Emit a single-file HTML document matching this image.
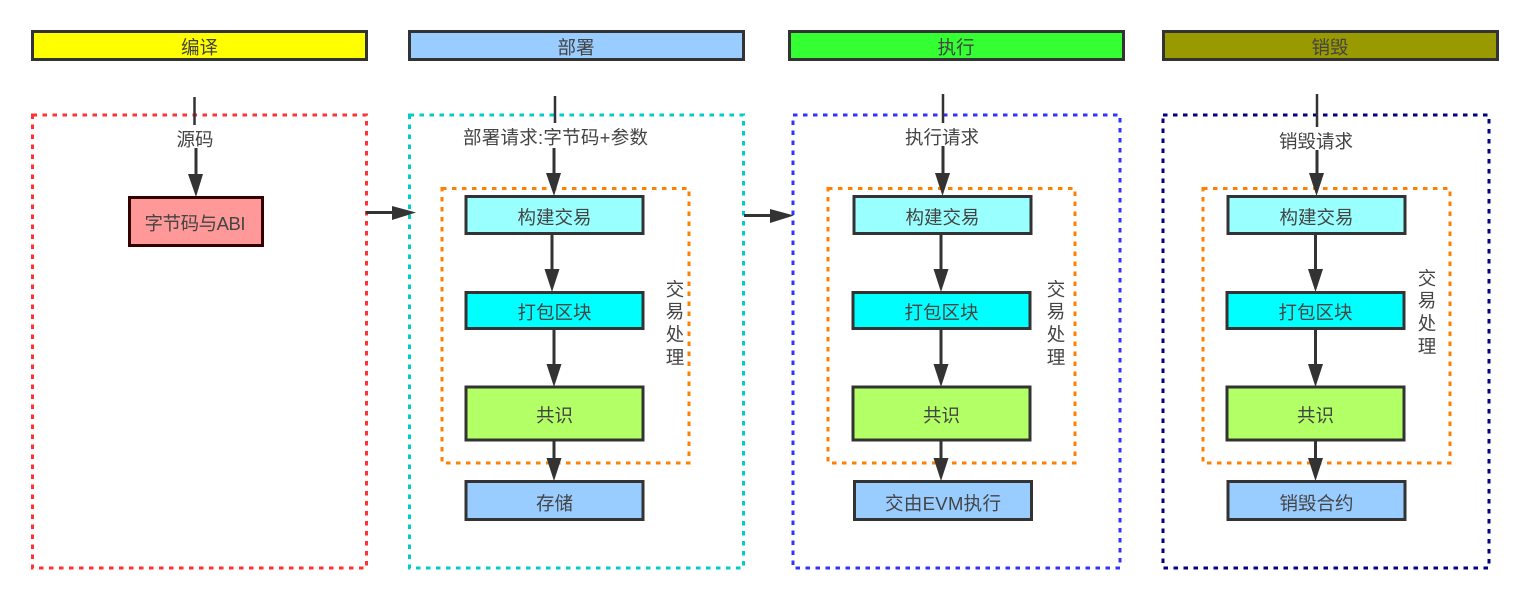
<!DOCTYPE html>
<html><head><meta charset="utf-8"><style>
html,body{margin:0;padding:0;background:#fff}
svg{display:block}
text{font-family:"Liberation Sans","Noto Sans CJK SC",sans-serif;font-size:18.500px;fill:#444;text-anchor:middle}
.h{stroke:#333;stroke-width:3}
.b{stroke:#333;stroke-width:3}
.d{fill:none;stroke-width:3;stroke-dasharray:4.500 5.500}
.o{fill:none;stroke:#FF8000;stroke-width:3;stroke-dasharray:4.500 5.500}
.l{stroke:#333;stroke-width:3;fill:none}
.t{stroke:#333;stroke-width:2.500;fill:none}
.a{fill:#333}
</style></head><body>
<svg width="1530" height="597" viewBox="0 0 1530 597" xmlns="http://www.w3.org/2000/svg">
<rect width="1530" height="597" fill="#fff"/>

<!-- headers -->
<rect class="h" x="32.5" y="31.5" width="334" height="28" fill="#FFFF00"/>
<text x="199.500" y="54" textLength="37">编译</text>
<rect class="h" x="409.5" y="31.5" width="334" height="28" fill="#99CCFF"/>
<text x="576" y="54" textLength="37">部署</text>
<rect class="h" x="789.5" y="31.5" width="334" height="28" fill="#33FF33"/>
<text x="956" y="54" textLength="37">执行</text>
<rect class="h" x="1163.5" y="31.5" width="334" height="28" fill="#999900"/>
<text x="1330" y="54" textLength="37">销毁</text>

<!-- dashed containers -->
<rect class="d" x="32.5" y="115" width="334" height="453" stroke="#FF3333"/>
<rect class="d" x="409.5" y="115" width="334" height="453" stroke="#00CCCC"/>
<rect class="d" x="793" y="115" width="327" height="453" stroke="#3333FF"/>
<rect class="d" x="1163" y="115" width="326" height="453" stroke="#000080"/>

<rect class="o" x="442" y="188.500" width="247" height="274.500"/>
<rect class="o" x="828" y="188.500" width="247" height="274.500"/>
<rect class="o" x="1203" y="188.500" width="247" height="274.500"/>

<!-- column 1 -->
<path class="t" d="M194.500 97V125"/>
<path class="l" d="M196 148V178"/>
<polygon class="a" points="188,174 203,174 196,197"/>
<text x="195" y="146" textLength="37">源码</text>
<rect x="129.500" y="197.500" width="133" height="48" fill="#FF9999" stroke="#330000" stroke-width="3"/>
<text x="195" y="230" textLength="101">字节码与ABI</text>

<path class="l" d="M366 212.500H396"/>
<polygon class="a" points="392,206 392,220 416,212.500"/>
<path class="l" d="M744 215.500H774"/>
<polygon class="a" points="770,209 770,223 794,215.500"/>

<!-- column 2 -->
<path class="t" d="M555 96V123"/>
<path class="l" d="M554 148V176M552 233V273M554 328V368M554 440V462"/>
<polygon class="a" points="546,173 561,173 554,196"/>
<polygon class="a" points="544.500,269 559.500,269 552,292"/>
<polygon class="a" points="546.500,364 561.500,364 554,387"/>
<polygon class="a" points="546.500,458 561.500,458 554,481"/>
<text x="555.500" y="144" textLength="185">部署请求:字节码+参数</text>
<rect class="b" x="466" y="196.500" width="177" height="37" fill="#99FFFF"/>
<text x="554.500" y="224">构建交易</text>
<rect class="b" x="466" y="292.500" width="177" height="36" fill="#00FFFF"/>
<text x="554.500" y="319">打包区块</text>
<rect class="b" x="466" y="387" width="177" height="53" fill="#B3FF66"/>
<text x="554.500" y="422">共识</text>
<rect class="b" x="466" y="481.500" width="177" height="38" fill="#99CCFF"/>
<text x="554.500" y="510">存储</text>
<text x="675" y="296">交</text><text x="675" y="318">易</text><text x="675" y="341">处</text><text x="675" y="364">理</text>

<!-- column 3 -->
<path class="t" d="M943 94V123"/>
<path class="l" d="M943 146V176M941 234V273M941 328V368M941 440V462"/>
<polygon class="a" points="935,173 950,173 942.500,196"/>
<polygon class="a" points="933.500,269 948.500,269 941,292"/>
<polygon class="a" points="933.500,364 948.500,364 941,387"/>
<polygon class="a" points="933.500,458 948.500,458 941,481"/>
<text x="942" y="144">执行请求</text>
<rect class="b" x="854" y="196.500" width="177" height="37" fill="#99FFFF"/>
<text x="942.500" y="224">构建交易</text>
<rect class="b" x="853" y="292.500" width="177" height="36" fill="#00FFFF"/>
<text x="941.500" y="319">打包区块</text>
<rect class="b" x="853" y="387" width="177" height="53" fill="#B3FF66"/>
<text x="941.500" y="422">共识</text>
<rect class="b" x="854.500" y="481.500" width="177" height="38" fill="#99CCFF"/>
<text x="943" y="510" textLength="116">交由EVM执行</text>
<text x="1056" y="296">交</text><text x="1056" y="318">易</text><text x="1056" y="341">处</text><text x="1056" y="364">理</text>

<!-- column 4 -->
<path class="t" d="M1317 94V127"/>
<path class="l" d="M1317 150V176M1315.500 234V273M1315.500 328V368M1315.500 440V462"/>
<polygon class="a" points="1309,173 1324,173 1316.500,196"/>
<polygon class="a" points="1308,269 1323,269 1315.500,292"/>
<polygon class="a" points="1308,364 1323,364 1315.500,387"/>
<polygon class="a" points="1308,458 1323,458 1315.500,481"/>
<text x="1316" y="148">销毁请求</text>
<rect class="b" x="1228" y="196.500" width="177" height="37" fill="#99FFFF"/>
<text x="1316.500" y="224">构建交易</text>
<rect class="b" x="1227" y="292.500" width="177" height="36" fill="#00FFFF"/>
<text x="1315.500" y="319">打包区块</text>
<rect class="b" x="1227" y="387" width="177" height="53" fill="#B3FF66"/>
<text x="1315.500" y="422">共识</text>
<rect class="b" x="1228" y="481.500" width="177" height="38" fill="#99CCFF"/>
<text x="1316.500" y="510">销毁合约</text>
<text x="1427" y="285">交</text><text x="1427" y="307">易</text><text x="1427" y="330">处</text><text x="1427" y="353">理</text>
</svg>
</body></html>
